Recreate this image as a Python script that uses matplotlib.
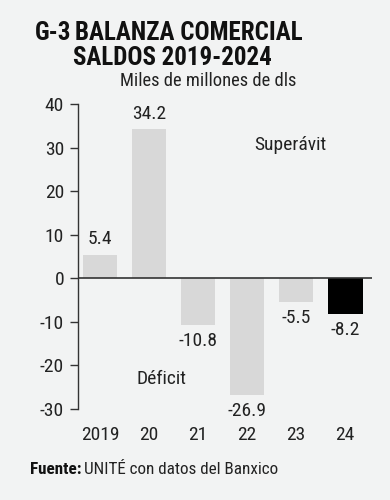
import matplotlib
matplotlib.use('Agg')
import matplotlib.pyplot as plt
from matplotlib import font_manager

# pick a narrow family if there is one
names = set(f.name for f in font_manager.fontManager.ttflist)
fam = 'DejaVu Sans'
for cand in ['Liberation Sans Narrow', 'Roboto Condensed', 'Open Sans Condensed', 'DejaVu Sans']:
    if cand in names:
        fam = cand
        break
plt.rcParams['font.family'] = [fam, 'DejaVu Sans']

years = ['2019', '20', '21', '22', '23', '24']
saldos = [5.4, 34.2, -10.8, -26.9, -5.5, -8.2]
etiquetas = ['5.4', '34.2', '-10.8', '-26.9', '-5.5', '-8.2']
yticks = [40, 30, 20, 10, 0, -10, -20, -30]

bg = '#f2f3f3'
colores = ['#d8d8d8'] * 5 + ['#000000']
fs = 14

fig = plt.figure(figsize=(3.9, 5.0), dpi=100, facecolor=bg)
ax = fig.add_axes([0.2, 0.182, 0.754, 0.61], facecolor=bg)

x = list(range(len(years)))
ax.bar(x, saldos, width=0.71, color=colores, zorder=2)
ax.axhline(0, color='#333333', lw=1.2, zorder=3)

for xi, v, t in zip(x, saldos, etiquetas):
    if v >= 0:
        ax.text(xi, v + 1.5, t, ha='center', va='bottom', fontsize=fs, color='#222222')
    else:
        ax.text(xi, v - 1.5, t, ha='center', va='top', fontsize=fs, color='#222222')

ax.set_xlim(-0.45, 5.55)
ax.set_ylim(-30, 40)
ax.set_yticks(yticks)
ax.set_yticklabels([str(t) for t in yticks], fontsize=fs, color='#222222')
ax.set_xticks(x)
ax.set_xticklabels(years, fontsize=fs, color='#222222')
ax.tick_params(axis='x', length=0, pad=12)
ax.tick_params(axis='y', direction='out', length=6, width=1, color='#333333', pad=4)
for s in ['top', 'right', 'bottom']:
    ax.spines[s].set_visible(False)
ax.spines['left'].set_color('#333333')
ax.spines['left'].set_linewidth(1)

ax.text(3.15, 30.5, 'Superávit', ha='left', va='center', fontsize=fs, color='#222222')
ax.text(0.75, -23.2, 'Déficit', ha='left', va='center', fontsize=fs, color='#222222')

fig.text(0.09, 0.935, 'G-3', fontsize=18, fontweight='bold', ha='left', va='center', color='#111111')
fig.text(0.192, 0.935, 'BALANZA COMERCIAL', fontsize=18, fontweight='bold', ha='left', va='center', color='#111111')
fig.text(0.188, 0.884, 'SALDOS 2019-2024', fontsize=18, fontweight='bold', ha='left', va='center', color='#111111')
fig.text(0.308, 0.838, 'Miles de millones de dls', fontsize=13.3, ha='left', va='center', color='#222222')

t1 = fig.text(0.077, 0.06, 'Fuente:', fontsize=12.3, fontweight='bold', ha='left', va='center', color='#111111')
fig.canvas.draw()
bb = t1.get_window_extent().transformed(fig.transFigure.inverted())
fig.text(bb.x1 + 0.006, 0.06, 'UNITÉ con datos del Banxico', fontsize=12.3, ha='left', va='center', color='#222222')

fig.savefig('out.png', dpi=100, facecolor=bg)
